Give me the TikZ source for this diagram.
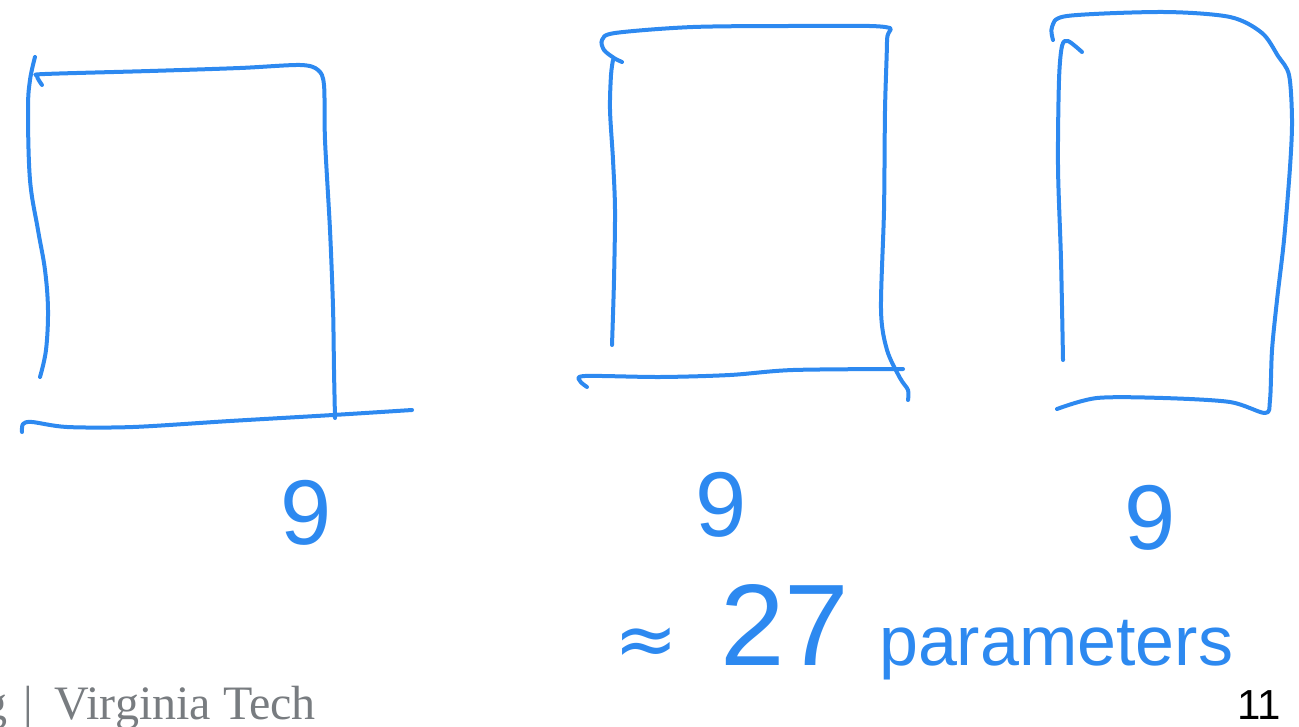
\documentclass[tikz,border=0pt]{standalone}
\usepackage{fontspec}
\setmainfont{Liberation Serif}
\newfontfamily\handfont{Liberation Sans}
\newfontfamily\symfont{DejaVu Sans}
\newfontfamily\numfont{Liberation Sans}
\definecolor{penblue}{RGB}{45,137,240}
\definecolor{footgray}{RGB}{120,124,128}
\tikzset{
  pen/.style={draw=penblue, line width=2pt, line cap=round, line join=round},
  handtext/.style={text=penblue, inner sep=0pt, font=\handfont\fontsize{46}{46}\selectfont},
  foot/.style={text=footgray, inner sep=0pt, font=\rmfamily\fontsize{24}{24}\selectfont},
  pagenum/.style={text=black, inner sep=0pt, font=\numfont\fontsize{21}{21}\selectfont}
}
\begin{document}
\begin{tikzpicture}[x=0.5pt,y=-0.5pt]
\useasboundingbox (0,0) rectangle (1299,727);
% ---------- box 1 ----------
\draw[pen] plot[smooth,tension=0.6] coordinates {(35,57) (30,80) (28,110) (30,180) (38,230) (45,270) (48,310) (46,350) (40,377)};
\draw[pen] plot[smooth,tension=0.5] coordinates {(42,85) (37,76) (45,74) (150,71) (240,68) (300,65) (318,70) (324,85) (325,140) (330,230) (333,307) (334,370) (335,418)};
\draw[pen] plot[smooth,tension=0.5] coordinates {(22,432) (23,424) (32,422) (67,427) (133,427) (230,421) (333,415) (412,410)};
% ---------- box 2 ----------
\draw[pen] plot[smooth,tension=0.5] coordinates {(622,62) (614,58) (604,50) (602,40) (615,33) (693,27) (800,26) (885,27) (887,40) (885,110) (884,210) (881,310) (887,350) (900,378) (908,390) (908,400)};
\draw[pen] plot[smooth,tension=0.5] coordinates {(613,60) (611,75) (610,110) (613,160) (615,210) (614,280) (612,345)};
\draw[pen] plot[smooth,tension=0.5] coordinates {(587,387) (580,381) (585,376) (660,377) (730,375) (793,370) (903,369)};
% ---------- box 3 ----------
\draw[pen] plot[smooth,tension=0.5] coordinates {(1053,40) (1052,27) (1067,16) (1163,12) (1230,17) (1262,33) (1278,56) (1289,75) (1292,120) (1290,167) (1284,240) (1277,300) (1272,350) (1270,400) (1265,413) (1230,402) (1163,398) (1097,398) (1057,409)};
\draw[pen] plot[smooth,tension=0.5] coordinates {(1082,52) (1068,41) (1062,46) (1059,80) (1058,167) (1061,260) (1063,360)};
% ---------- handwritten labels ----------
\node[handtext] (n1) at (306,513) {9};
\node[handtext] (n2) at (721,505) {9};
\node[handtext] (n3) at (1150,518) {9};
\node[handtext, anchor=base west] (total) at (614,665) {{\symfont\fontsize{38}{38}\selectfont ≈}\hspace{21pt}{\fontsize{58}{58}\selectfont 27}\hspace{15pt}{\fontsize{35}{35}\selectfont parameters}};
% ---------- footer ----------
\node[foot, anchor=base east] (footer) at (316,719) {g\hspace{8pt}|\hspace{11pt}Virginia Tech};
\node[pagenum, anchor=base east] (page) at (1281,719) {11};
\end{tikzpicture}
\end{document}
